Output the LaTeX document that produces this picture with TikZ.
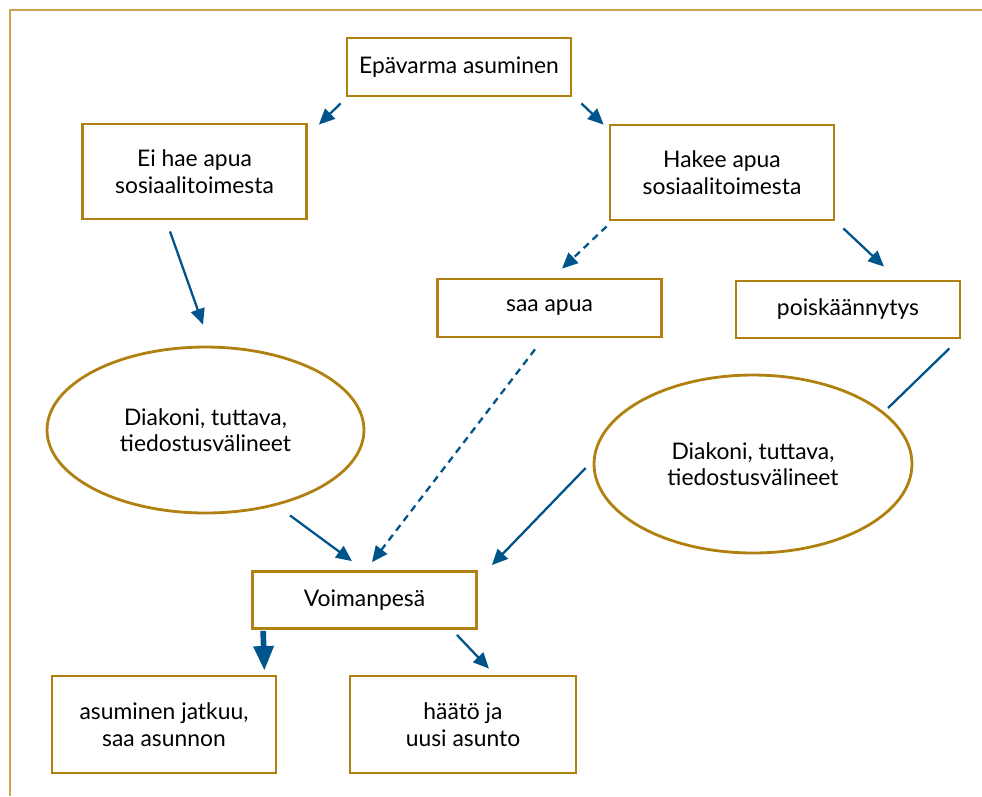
\documentclass[tikz,border=0pt]{standalone}
\usepackage{fontspec}
\setmainfont{Lato}
\usetikzlibrary{shapes.geometric,arrows.meta}
\definecolor{boxgold}{RGB}{176,128,16}
\definecolor{framegold}{RGB}{205,165,80}
\definecolor{arrowblue}{RGB}{0,84,140}
\begin{document}
\begin{tikzpicture}[x=0.02cm,y=-0.02cm]
      \useasboundingbox (0,0) rectangle (982,796);
      \draw[framegold,line width=0.7pt] (982,10) -- (10,10) -- (10,796);

      \begin{scope}[every node/.style={draw=boxgold,line width=1.6pt,align=center,inner sep=0pt,
          font=\fontsize{13}{15}\selectfont,minimum width=4.48cm}]
        \node[minimum height=1.16cm] (epa)    at (459,67)    {Epävarma asuminen};
        \node[minimum height=1.9cm]  (eihae)  at (194.5,171.5) {Ei hae apua\\sosiaalitoimesta};
        \node[minimum height=1.9cm]  (hakee)  at (722,172.5) {Hakee apua\\sosiaalitoimesta};
        \node[minimum height=1.16cm] (saa)    at (549.5,308) {saa apua};
        \node[minimum height=1.14cm] (pois)   at (848,309.5) {poiskäännytys};
        \node[ellipse,minimum width=6.34cm,minimum height=3.32cm] (ellL) at (205.5,430) {Diakoni, tuttava,\\tiedostusvälineet};
        \node[ellipse,minimum width=6.36cm,minimum height=3.56cm] (ellR) at (753,464) {Diakoni, tuttava,\\tiedostusvälineet};
        \node[minimum height=1.14cm] (voima)  at (364.5,600) {Voimanpesä};
        \node[minimum height=1.94cm] (asu)    at (164,724.5) {asuminen jatkuu,\\saa asunnon};
        \node[minimum height=1.94cm,minimum width=4.52cm] (haato) at (463,724.5) {häätö ja\\uusi asunto};
      \end{scope}

      \begin{scope}[every edge/.style={draw=arrowblue,line width=1.3pt,-{Triangle[length=9pt,width=8pt]}}]
        \path ([shift={(-5,6)}]epa.south west)   edge ([shift={(11,2)}]eihae.north east);
        \path ([shift={(9,6)}]epa.south east)    edge ([shift={(-5,1)}]hakee.north west);
        \path ([shift={(-24.5,11)}]eihae.south)  edge ([shift={(-2.5,-21)}]ellL.north);
        \path ([shift={(-2,5)}]hakee.south west) edge[dash pattern=on 4pt off 3pt] ([shift={(12.5,-9)}]saa.north);
        \path ([shift={(8,7)}]hakee.south east)  edge ([shift={(36,-13)}]pois.north);
        \path ([shift={(-12,9)}]pois.south east) edge[-] ([shift={(135,-56)}]ellR.center);
        \path ([shift={(84.5,1)}]ellL.south)     edge ([shift={(-12.5,-9)}]voima.north);
        \path ([shift={(-14.5,11)}]saa.south)    edge[dash pattern=on 4pt off 3pt] ([shift={(7.5,-8)}]voima.north);
        \path ([shift={(-7,4)}]ellR.west)        edge ([shift={(14,-5)}]voima.north east);
        \path ([shift={(12,1)}]voima.south west) edge[line width=3.2pt,-{Triangle[length=14pt,width=11pt]}] ([shift={(-13,-4)}]asu.north east);
        \path ([shift={(-21,5)}]voima.south east) edge ([shift={(26,-6)}]haato.north);
      \end{scope}

    \end{tikzpicture}
\end{document}
